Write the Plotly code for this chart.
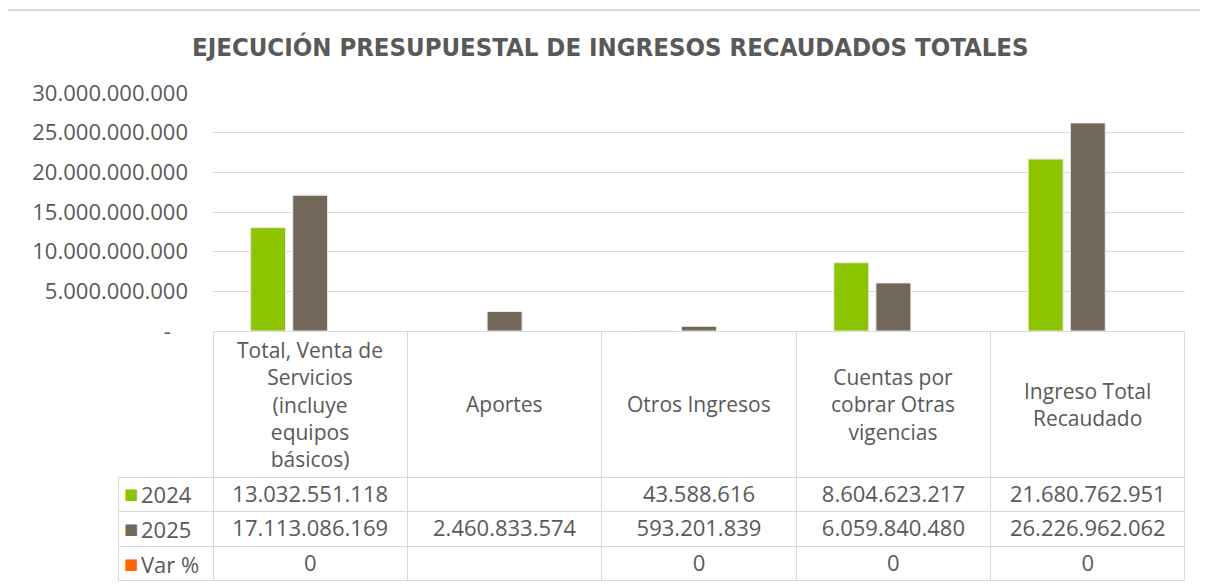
import plotly.graph_objects as go

# ---- data ----
categories = [
    "Total, Venta de<br>Servicios<br>(incluye<br>equipos<br>básicos)",
    "Aportes",
    "Otros Ingresos",
    "Cuentas por<br>cobrar Otras<br>vigencias",
    "Ingreso Total<br>Recaudado",
]
series_names = ["2024", "2025", "Var %"]
values_2024 = [13032551118, None, 43588616, 8604623217, 21680762951]
values_2025 = [17113086169, 2460833574, 593201839, 6059840480, 26226962062]
values_var = [0, None, 0, 0, 0]
y_tickvals = [0, 5e9, 10e9, 15e9, 20e9, 25e9, 30e9]
y_ticktext = ["-\u00a0\u00a0\u00a0", "5.000.000.000", "10.000.000.000", "15.000.000.000",
              "20.000.000.000", "25.000.000.000", "30.000.000.000"]
title_text = "EJECUCIÓN PRESUPUESTAL DE INGRESOS RECAUDADOS TOTALES"

# ---- style ----
W, H = 1208, 587
OFF = 8  # default page body margin
GREEN = "#8DC400"
BROWN = "#72685A"
ORANGE = "#FF6600"
TXT = "#595959"
GRID = "#D9D9D9"
FONT = "Open Sans"
FS = 22


def px_x(x):
    return (x - OFF) / W


def px_y(y):
    return 1 - (y - OFF) / H


plot_l, plot_r, plot_t, plot_b = 213, 1185, 93, 331
table_l, table_b = 118, 581
header_h = 146
row_h = 34.6

colors = [GREEN, BROWN, ORANGE]
series_vals = [values_2024, values_2025, values_var]
outline_w = [1, 1, 0]


def fmt(v):
    if v is None:
        return ""
    return f"{v:,}".replace(",", ".")


x_idx = list(range(len(categories)))

fig = go.Figure()
for name, vals, col, lw in zip(series_names, series_vals, colors, outline_w):
    fig.add_trace(go.Bar(
        x=x_idx, y=vals, name=name,
        marker=dict(color=col, line=dict(color="#EDEDED", width=lw)),
        showlegend=False,
    ))

# table (row-label column left empty; labels with legend keys drawn as annotations)
cols = [[""] * len(series_names)]
for i in range(len(categories)):
    cols.append([fmt(values_2024[i]), fmt(values_2025[i]), fmt(values_var[i])])

cat_w = (plot_r - plot_l) / len(categories)
ncol = len(categories) + 1
fig.add_trace(go.Table(
    domain=dict(x=[px_x(table_l), px_x(plot_r)], y=[px_y(table_b), px_y(plot_b)]),
    columnwidth=[plot_l - table_l] + [cat_w] * len(categories),
    header=dict(
        values=[""] * ncol,
        height=header_h,
        fill=dict(color=["rgba(0,0,0,0)"] + ["white"] * len(categories)),
        line=dict(color=["rgba(0,0,0,0)"] + [GRID] * len(categories), width=1),
    ),
    cells=dict(
        values=cols,
        height=row_h,
        align=["left"] + ["center"] * len(categories),
        fill=dict(color="white"),
        line=dict(color=GRID, width=1),
        font=dict(family=FONT, size=FS, color=TXT),
    ),
))

# row labels with legend keys
for i, (col, name) in enumerate(zip(colors, series_names)):
    yc = px_y(plot_b + header_h + row_h * (i + 0.5))
    fig.add_annotation(
        x=px_x(table_l + 13), y=yc, xref="paper", yref="paper",
        text="■", showarrow=False, xanchor="center", yanchor="middle",
        font=dict(family="DejaVu Sans", size=15, color=col),
    )
    fig.add_annotation(
        x=px_x(table_l + 21), y=yc, xref="paper", yref="paper",
        text=name, showarrow=False, xanchor="left", yanchor="middle",
        font=dict(family=FONT, size=FS, color=TXT),
    )

# category header labels
for i, c in enumerate(categories):
    fig.add_annotation(
        x=px_x(plot_l + cat_w * (i + 0.5)), y=px_y(404), xref="paper", yref="paper",
        text=c, showarrow=False, xanchor="center", yanchor="middle", align="center",
        font=dict(family=FONT, size=21, color=TXT),
    )

# title
fig.add_annotation(
    x=px_x(610), y=px_y(47), xref="paper", yref="paper", text=f"<b>{title_text}</b>",
    showarrow=False, xanchor="center", yanchor="middle",
    font=dict(family="DejaVu Sans Condensed, Liberation Sans Narrow, sans-serif",
              size=25.5, color=TXT),
)

# chart outer border
fig.add_shape(type="rect", xref="paper", yref="paper",
              x0=px_x(7), x1=px_x(1230), y0=px_y(620), y1=px_y(10),
              line=dict(color=GRID, width=2), fillcolor="rgba(0,0,0,0)", layer="below")

fig.update_layout(
    template="none",
    width=W, height=H,
    margin=dict(l=0, r=0, t=0, b=0, autoexpand=False),
    paper_bgcolor="white", plot_bgcolor="white",
    barmode="group", bargap=0.35, bargroupgap=0.17,
    font=dict(family=FONT, size=FS, color=TXT),
    xaxis=dict(domain=[px_x(plot_l), px_x(plot_r)], range=[-0.5, len(categories) - 0.5],
               showticklabels=False, showgrid=False, zeroline=False, ticks="",
               showline=False, fixedrange=True, automargin=False),
    yaxis=dict(domain=[px_y(plot_b), px_y(plot_t)], range=[0, 30e9],
               tickvals=y_tickvals, ticktext=y_ticktext, showgrid=True, gridcolor=GRID,
               gridwidth=1, zeroline=False, showline=False, ticks="",
               ticklabelstandoff=24, tickfont=dict(family=FONT, size=FS, color=TXT),
               fixedrange=True, automargin=False),
)

fig.write_html("out.html")
